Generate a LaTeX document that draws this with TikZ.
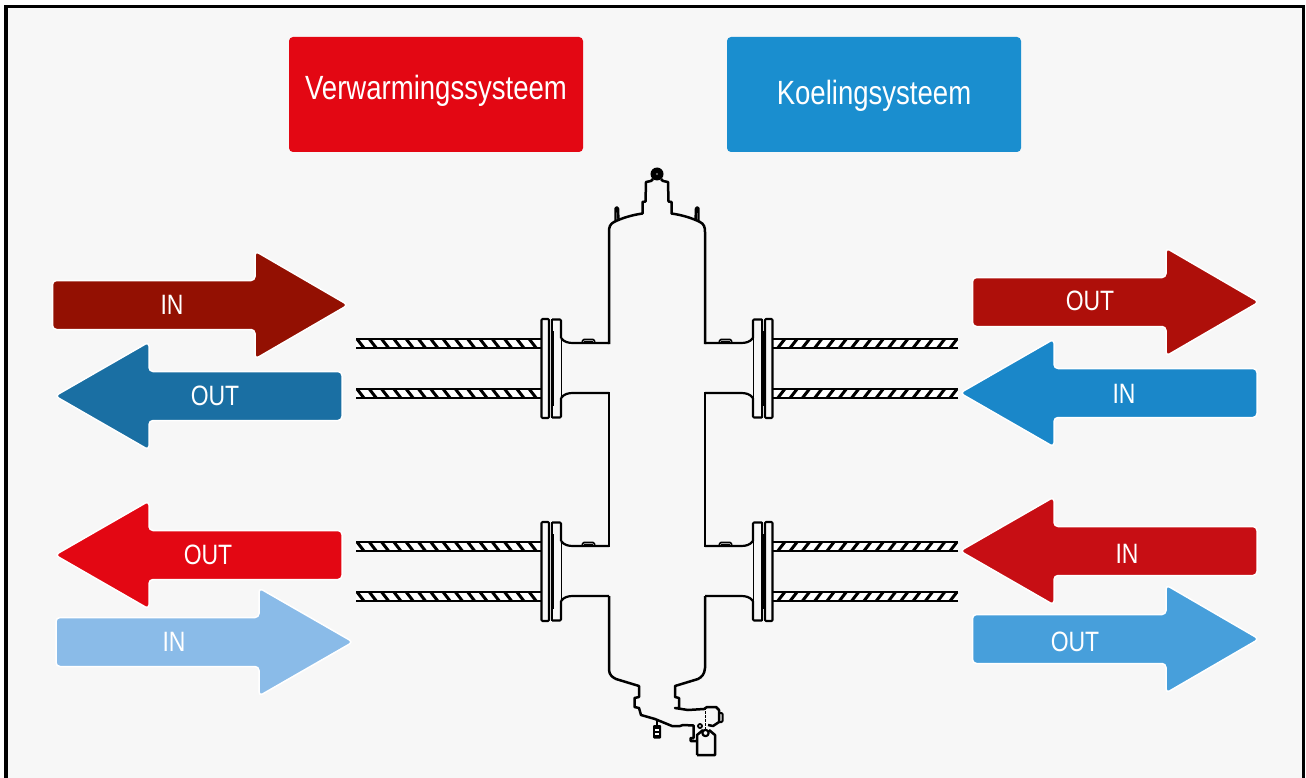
\documentclass[tikz,border=0pt]{standalone}
\usepackage{fontspec}
\setmainfont[FakeStretch=0.82]{Liberation Sans}
\definecolor{paneback}{HTML}{F7F7F7}
\definecolor{heatred}{HTML}{E30713}
\definecolor{coolblue}{HTML}{1A8ECF}
\definecolor{arrowa}{HTML}{931002}
\definecolor{arrowb}{HTML}{1A6FA3}
\definecolor{arrowc}{HTML}{E30713}
\definecolor{arrowd}{HTML}{8ABBE8}
\definecolor{arrowe}{HTML}{AE0F0A}
\definecolor{arrowf}{HTML}{1A87C9}
\definecolor{arrowg}{HTML}{C70E14}
\definecolor{arrowh}{HTML}{479FDB}
\tikzset{
  headbox/.style={rounded corners=4pt,minimum width=294pt,minimum height=115pt,inner sep=0pt,text=white,font=\fontsize{33.6}{36}\selectfont},
  flowarrow/.style={draw=white,line width=1.5pt,rounded corners=4pt,line join=round},
  flowlabel/.style={inner sep=0pt,text=white,font=\fontsize{28}{30}\selectfont},
  vessel/.style={line width=2.2pt,line join=round},
  tube/.style={line width=2.4pt},
  fitting/.style={line width=2.1pt,line join=round,rounded corners=1pt}
}
\begin{document}
\begin{tikzpicture}[x=1pt,y=-1pt]
\useasboundingbox (0,0) rectangle (1306,778);
\fill[white] (0,0) rectangle (1306,778);
\draw[line width=3.4pt,fill=paneback] (6,6.5) rectangle (1303.5,800);

% system boxes
\node (verwarming) [headbox,fill=heatred] at (436,94.5) {\raisebox{3.5pt}[24pt][7pt]{Verwarmingssysteem}};
\node (koeling) [headbox,fill=coolblue] at (874,94.5) {\raisebox{-1.5pt}[24pt][7pt]{Koelingsysteem}};

% flow arrows
\foreach \nm/\tail/\neck/\tip/\yc/\col/\lab/\lx/\ly in {
  a/52.5/255/348/305/arrowa/IN/172/305,
  b/342/149/55/396/arrowb/OUT/215/396,
  c/342/149/55/555/arrowc/OUT/208/555,
  d/56/259/353/642/arrowd/IN/174/642,
  e/972.5/1166/1259/302/arrowe/OUT/1090/300.5,
  f/1257/1054/960/393/arrowf/IN/1124/393.5,
  g/1257/1054/960/551/arrowg/IN/1127/554,
  h/972.5/1166/1259/639/arrowh/OUT/1075/642}{
  \draw[flowarrow,fill=\col] (\tail,\yc-24.5) -- (\neck,\yc-24.5) -- (\neck,\yc-54) -- (\tip,\yc)
    -- (\neck,\yc+54) -- (\neck,\yc+24.5) -- (\tail,\yc+24.5) -- cycle;
  \node (lab\nm) [flowlabel] at (\lx,\ly) {\lab};
}

% pipes, flanges and nozzles
\foreach \dy in {0,203}{
  \foreach \ox/\sx in {0/1,1314/-1}{
    \begin{scope}[shift={(\ox,\dy)},xscale=\sx]
      \foreach \py in {339,389}{
        \fill[white] (356,\py) rectangle (541,\py+9);
        \foreach \hx in {357,369.3,...,530}
          \draw[line width=3pt] (\hx,\py) -- (\hx+7,\py+9);
        \draw[tube] (356,\py) -- (541,\py);
        \draw[tube] (356,\py+9) -- (541,\py+9);
      }
      \fill[paneback] (541,319) rectangle (561,418);
      \draw[fitting] (541.5,319) rectangle (549,418);
      \draw[fitting] (552,319.5) -- (561,319.5) -- (561,338) (552,417.5) -- (561,417.5) -- (561,398);
      \draw[line width=1pt] (561,338) -- (561,398);
      \draw[line width=1.4pt] (552,319) -- (552,418);
      \draw[line width=3pt] (552,331) -- (552,406);
      \draw[vessel] (561,338) .. controls (564,342) and (568,343) .. (573,343) -- (609,343);
      \draw[vessel] (561,398) .. controls (564,394) and (568,393) .. (573,393) -- (609,393);
      \draw[line width=1.6pt,rounded corners=1pt] (582,343) -- (583,339.5) -- (594,339.5) -- (595,343);
      \draw[line width=1pt] (584,341) -- (593,341);
    \end{scope}
  }
}

% vessel body
\draw[vessel] (609,392) -- (609,547);
\draw[vessel] (705,392) -- (705,547);
\draw[vessel,line width=2.5pt] (609,344) -- (609,232) .. controls (609,227) and (610,224) .. (614,222)
  .. controls (622,218) and (632,215) .. (642.5,213.5) -- (642.5,202) -- (645.5,201.5) -- (646,182) -- (651,181)
  -- (653,179);
\draw[vessel,line width=2.5pt] (705,344) -- (705,232) .. controls (705,227) and (704,224) .. (700,222)
  .. controls (692,218) and (682,215) .. (671.5,213.5) -- (671.5,202) -- (668.5,201.5) -- (668,182) -- (663,181)
  -- (661,179);
\fill (657,174) circle (6.5);
\fill[gray] (657,174) circle (1.2);
\draw[fitting,line width=2.4pt] (615.5,222) -- (615.5,207.5) -- (618,207.5) -- (618.5,220);
\draw[fitting,line width=2.4pt] (698.5,222) -- (698.5,207.5) -- (696,207.5) -- (695.5,220);

% drain fittings
\draw[vessel,line width=2.5pt] (609,596) -- (609,670) .. controls (609.5,675) and (612,677) .. (616,679)
  -- (639,686) -- (639,697) -- (634.5,698) -- (634.5,707) -- (639,708) -- (641,715) -- (655,719)
  -- (672,726) -- (680,726) -- (683,725) -- (693.5,725.5) -- (693.5,738) -- (690.5,738) -- (690.5,741) -- (696.5,741);
\draw[vessel,line width=2.5pt] (705,596) -- (705,668) .. controls (704.5,674) and (702,677) .. (698,679)
  -- (675,686) -- (675,697) -- (679,698) -- (679,708) -- (675,708) -- (688,710) -- (704,709) -- (707,707)
  -- (716,707) -- (719,710) -- (719,722) -- (713,726) -- (708,725);
\draw[fitting,line width=2pt] (719,713) -- (722.5,713) -- (722.5,722) -- (719,722);
\draw[line width=1.6pt,dash pattern=on 3pt off 1pt] (705.5,707) -- (705.5,730);
\draw[vessel,line width=2.5pt] (697,755) -- (715,755) -- (715,735) -- (709,730) (703,730) -- (697,735) -- (697,755);
\draw[vessel] (705.5,733) circle (3.2);
\draw[vessel,line width=1.8pt] (700,726) circle (2);
\draw[vessel] (657,719) -- (657,727);
\fill[rounded corners=1pt] (653,725) rectangle (661,738.5);
\fill[white] (655,729) rectangle (659,731);
\fill[white] (655,733) rectangle (659,735);
\end{tikzpicture}
\end{document}
